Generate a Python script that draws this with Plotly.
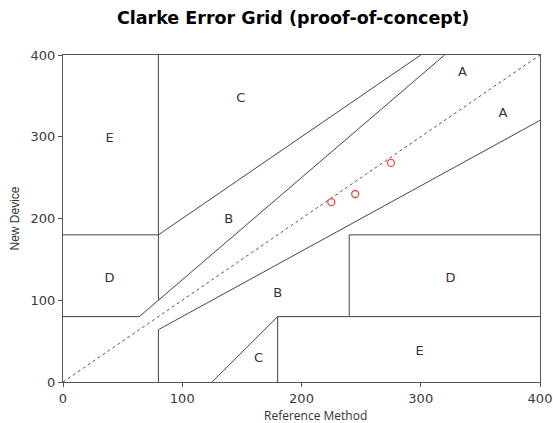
import plotly.graph_objects as go

# Zone boundary segments (reference value, device value)
seg_x = [
    [0, 64], [64, 320],          # upper A boundary
    [80, 80], [0, 80], [80, 300],  # left C/E, D/B
    [80, 80], [80, 400],         # lower A boundary
    [180, 180], [180, 400],
    [240, 240], [240, 400],
    [125, 180],
]
seg_y = [
    [80, 80], [80, 400],
    [100, 400], [180, 180], [180, 400],
    [0, 64], [64, 320],
    [0, 80], [80, 80],
    [80, 180], [180, 180],
    [0, 80],
]

diag = [0, 400]

ref_vals = [225, 245, 275]
dev_vals = [220, 230, 268]

zone_labels = ["A", "A", "B", "B", "C", "C", "D", "D", "E", "E"]
zone_x = [335, 369, 139, 180, 149, 164, 39, 325, 39, 299]
zone_y = [378, 328, 198, 108, 347, 28, 126, 126, 297, 37]

tick_vals = [0, 100, 200, 300, 400]

fig = go.Figure()
fig.add_trace(go.Scatter(x=diag, y=diag, mode="lines",
                         line=dict(color="#555555", width=1, dash="dot"),
                         hoverinfo="skip", showlegend=False))
for sx, sy in zip(seg_x, seg_y):
    fig.add_trace(go.Scatter(x=sx, y=sy, mode="lines",
                             line=dict(color="#444444", width=1),
                             hoverinfo="skip", showlegend=False))
fig.add_trace(go.Scatter(x=ref_vals, y=dev_vals, mode="markers",
                         marker=dict(symbol="circle-open", size=7,
                                     color="#f04545", line=dict(width=1.3)),
                         showlegend=False))
fig.add_trace(go.Scatter(x=zone_x, y=zone_y, mode="text", text=zone_labels,
                         textfont=dict(family="DejaVu Sans", size=13, color="#333333"),
                         hoverinfo="skip", showlegend=False))

axis_common = dict(range=[0, 400], tickvals=tick_vals, showgrid=False,
                   zeroline=False, showline=True, linecolor="#555555",
                   linewidth=1, mirror=True, ticks="outside", ticklen=4,
                   tickcolor="#555555", automargin=False,
                   tickfont=dict(family="DejaVu Sans", size=13, color="#3a3a3a"))

fig.update_layout(
    width=553, height=423,
    margin=dict(l=63, r=13, t=55, b=41),
    paper_bgcolor="white", plot_bgcolor="white",
    title=dict(text="<b>Clarke Error Grid (proof-of-concept)</b>",
               x=0.53, xanchor="center", y=0.957, yanchor="middle",
               font=dict(family="DejaVu Sans", size=17.5, color="black")),
    xaxis=dict(**axis_common),
    yaxis=dict(**axis_common),
    annotations=[
        dict(text="Reference Method", xref="paper", yref="paper",
             x=0.53, y=0, yshift=-33, xanchor="center", yanchor="middle",
             showarrow=False,
             font=dict(family="Open Sans, sans-serif", size=12, color="#333333")),
        dict(text="New Device", xref="paper", yref="paper",
             x=0, xshift=-49, y=0.5, xanchor="center", yanchor="middle",
             textangle=-90, showarrow=False,
             font=dict(family="Liberation Sans Narrow, Liberation Sans, Arial", size=12, color="#333333")),
    ],
)

fig.write_html("out.html")
